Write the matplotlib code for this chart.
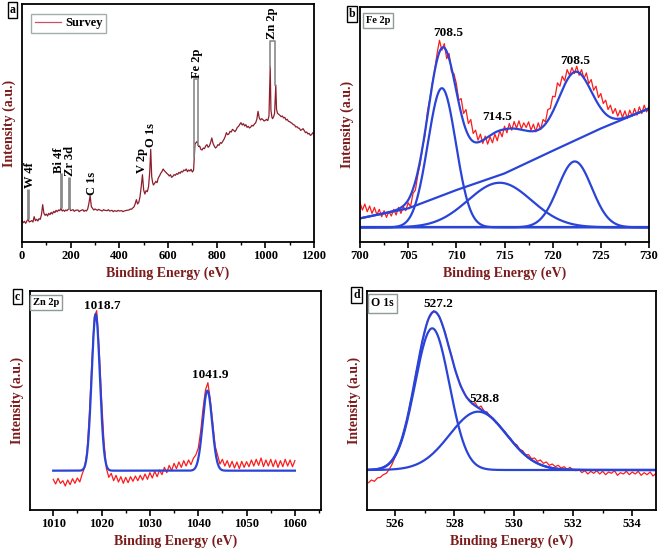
import numpy as np
import matplotlib.pyplot as plt
from matplotlib.ticker import MultipleLocator

plt.rcParams['font.family'] = ['Liberation Serif', 'DejaVu Serif']
plt.rcParams['font.weight'] = 'bold'

# ====================================================================
# DATA (arbitrary intensity units)
# ====================================================================
# (a) survey spectrum
survey_ev = [0, 5, 10, 15, 20, 25, 30, 40, 45, 50, 55, 60,
             65, 70, 75, 80, 85, 90, 95, 100, 105, 110, 115, 120,
             125, 130, 135, 140, 145, 150, 155, 160, 165, 170, 175, 180,
             185, 190, 195, 200, 210, 215, 220, 230, 235, 240, 250, 255,
             260, 265, 270, 275, 280, 285, 290, 295, 300, 310, 315, 320,
             330, 335, 340, 350, 355, 360, 370, 375, 380, 390, 395, 400,
             410, 415, 420, 430, 440, 445, 450, 455, 460, 465, 470, 475,
             480, 485, 490, 495, 500, 505, 510, 515, 520, 525, 529, 533,
             537, 540, 545, 550, 555, 560, 565, 570, 575, 580, 585, 590,
             595, 600, 605, 610, 615, 620, 625, 630, 635, 640, 645, 650,
             655, 660, 665, 670, 675, 680, 685, 690, 695, 700, 705, 708,
             711, 715, 720, 723, 727, 730, 735, 740, 745, 750, 755, 760,
             765, 770, 775, 780, 785, 790, 795, 800, 805, 810, 815, 820,
             825, 830, 835, 840, 845, 850, 855, 860, 865, 870, 875, 880,
             885, 890, 895, 900, 905, 910, 915, 920, 925, 930, 935, 940,
             945, 950, 955, 960, 965, 970, 975, 980, 985, 990, 995, 1000,
             1005, 1010, 1015, 1020, 1023, 1027, 1030, 1035, 1038, 1043, 1046, 1050,
             1055, 1060, 1065, 1070, 1075, 1080, 1085, 1090, 1095, 1100, 1105, 1110,
             1115, 1120, 1125, 1130, 1135, 1140, 1145, 1150, 1155, 1160, 1165, 1170,
             1175, 1180, 1185, 1190, 1195, 1200]
survey_counts = [58, 52, 56, 50, 57, 62, 54, 58, 54, 70, 58, 62,
                 57, 64, 62, 76, 106, 80, 74, 78, 72, 80, 76, 83,
                 78, 86, 82, 89, 85, 90, 88, 95, 87, 90, 86, 90,
                 88, 92, 97, 88, 91, 86, 89, 90, 85, 88, 91, 86,
                 89, 87, 93, 110, 133, 100, 95, 90, 93, 89, 92, 90,
                 87, 91, 89, 88, 91, 87, 89, 85, 88, 86, 89, 87,
                 88, 85, 87, 89, 90, 93, 92, 96, 99, 108, 121, 108,
                 113, 130, 160, 196, 150, 138, 148, 145, 160, 205, 272, 190,
                 172, 165, 170, 176, 172, 186, 192, 200, 205, 213, 208, 204,
                 200, 197, 192, 196, 188, 191, 196, 194, 199, 197, 203, 200,
                 206, 204, 210, 208, 213, 205, 210, 207, 212, 204, 209, 250,
                 288, 292, 296, 285, 280, 282, 272, 270, 276, 274, 282, 286,
                 278, 282, 292, 306, 290, 282, 276, 279, 286, 284, 292, 290,
                 296, 302, 310, 322, 316, 318, 326, 324, 332, 329, 325, 330,
                 338, 341, 347, 352, 345, 349, 342, 346, 338, 341, 336, 339,
                 344, 342, 348, 351, 362, 386, 366, 360, 364, 361, 357, 359,
                 362, 358, 372, 520, 390, 368, 364, 372, 380, 465, 392, 380,
                 377, 374, 370, 372, 366, 368, 360, 362, 356, 355, 352, 350,
                 346, 345, 339, 340, 336, 335, 329, 331, 334, 328, 322, 324,
                 318, 320, 314, 316, 322, 319]
survey_labels = ['W 4f', 'Bi 4f', 'Zr 3d', 'C 1s', 'V 2p', 'O 1s', 'Fe 2p', 'Zn 2p']
survey_label_ev = [31, 150, 196, 287, 492, 529, 720, 1029]
survey_label_y = [155, 202, 192, 135, 200, 280, 485, 602]
# single drop lines (W, Bi, Zr) and bracket markers (Fe, Zn)
drop_ev = [25, 160, 193]
drop_low = [62, 95, 92]
drop_high = [152, 200, 190]
bracket_left = [707, 1019]
bracket_right = [725, 1040]
bracket_low_left = [250, 520]
bracket_low_right = [285, 465]
bracket_top = [482, 598]

# (b) Fe 2p
fe_counts = [112, 90, 108, 85, 102, 80, 98, 76, 92, 70, 88, 68,
             86, 72, 92, 75, 98, 80, 100, 88, 112, 100, 140, 150,
             195, 230, 280, 315, 385, 425, 470, 510, 560, 600, 570, 590,
             545, 560, 505, 500, 470, 420, 425, 380, 392, 350, 362, 320,
             330, 300, 318, 290, 312, 288, 310, 292, 318, 298, 328, 310,
             342, 322, 350, 330, 356, 336, 358, 334, 352, 338, 355, 330,
             348, 325, 352, 332, 362, 355, 392, 395, 432, 430, 472, 462,
             492, 478, 512, 495, 518, 500, 522, 495, 512, 485, 502, 470,
             482, 450, 462, 428, 440, 410, 420, 392, 405, 380, 395, 372,
             390, 368, 388, 365, 390, 372, 395, 375, 400, 380, 405, 385,
             402]
fe_bg_ev = [700, 705, 710, 715, 720, 725, 730]
fe_bg = [65, 95, 150, 200, 268, 335, 395]
fe_base = 38
fe_centers = [708.5, 714.5, 722.3]
fe_heights = [418, 134, 198]
fe_sigmas = [1.45, 3.3, 1.75]
fe_peak_text = ['708.5', '714.5', '708.5']
fe_text_ev = [709.2, 714.2, 722.3]
fe_text_y = [623, 370, 538]

# (c) Zn 2p
zn_counts = [92, 78, 95, 80, 88, 72, 90, 76, 94, 80, 96, 84,
             108, 128, 175, 290, 445, 580, 598, 485, 335, 205, 125, 98,
             110, 88, 104, 84, 100, 80, 98, 82, 100, 86, 102, 88,
             104, 90, 108, 92, 112, 96, 116, 100, 120, 106, 128, 112,
             134, 118, 140, 124, 144, 128, 148, 132, 150, 136, 155, 165,
             185, 235, 305, 360, 382, 330, 262, 192, 165, 138, 152, 132,
             148, 128, 146, 126, 144, 124, 146, 128, 145, 130, 150, 132,
             152, 134, 156, 130, 150, 132, 152, 130, 150, 128, 148, 130,
             152, 132, 150, 130, 148]
zn_base = 118
zn_centers = [1018.8, 1041.9]
zn_heights = [470, 240]
zn_sigmas = [0.85, 0.97]
zn_peak_text = ['1018.7', '1041.9']
zn_text_ev = [1020.1, 1042.5]
zn_text_y = [613, 405]

# (d) O 1s
o_counts = [82, 90, 86, 96, 98, 106, 110, 122, 138, 160,
            180, 204, 240, 270, 318, 356, 410, 452, 502, 534,
            570, 584, 598, 590, 580, 552, 530, 490, 464, 426,
            402, 372, 358, 338, 332, 318, 322, 306, 312, 296,
            294, 280, 276, 262, 256, 242, 236, 222, 214, 200,
            196, 182, 178, 166, 166, 154, 156, 146, 150, 140,
            144, 134, 138, 130, 134, 126, 130, 122, 128, 120,
            118, 122, 112, 118, 108, 116, 110, 118, 108, 116,
            106, 114, 110, 118, 104, 112, 108, 116, 106, 114,
            108, 116, 104, 112, 106, 114, 102, 110]
o_base = 120
o_centers = [527.25, 528.8]
o_heights = [425, 175]
o_sigmas = [0.58, 0.96]
o_peak_text = ['527.2', '528.8']
o_text_ev = [527.46, 529.0]
o_text_y = [619, 333]

# ====================================================================
# STYLE
# ====================================================================
RED = '#fb1c1c'
BLUE = '#2a44d8'
MAROON = '#8c1f2c'
LABEL_RED = '#7d1c1c'


def gauss(x, c, h, s):
    return h * np.exp(-0.5 * ((x - c) / s) ** 2)


def style_axes(ax, xlim, ylim, major, minor):
    ax.set_xlim(*xlim)
    ax.set_ylim(*ylim)
    ax.set_yticks([])
    ax.xaxis.set_major_locator(MultipleLocator(major))
    ax.xaxis.set_minor_locator(MultipleLocator(minor))
    ax.tick_params(axis='x', which='major', direction='out', length=4, width=1.2,
                   labelsize=9, pad=2)
    ax.tick_params(axis='x', which='minor', direction='out', length=2.5, width=1.0)
    for lab in ax.get_xticklabels():
        lab.set_fontweight('bold')
    for sp in ax.spines.values():
        sp.set_linewidth(1.3)
    ax.set_xlabel('Binding Energy (eV)', fontsize=10, color=LABEL_RED,
                  fontweight='bold', labelpad=3)
    ax.set_ylabel('Intensity (a.u.)', fontsize=10, color=LABEL_RED,
                  fontweight='bold', labelpad=4)


def inner_tag(ax, x, y, txt, size):
    ax.text(x, y, txt, transform=ax.transAxes, ha='center', va='center',
            fontsize=size, fontweight='bold',
            bbox=dict(boxstyle='square,pad=0.3', fc='white', ec='#8f9a9a', lw=1.0))


W, H = 661, 550
fig = plt.figure(figsize=(W / 100, H / 100), dpi=100)


def axes_px(left, top, right, bottom):
    return fig.add_axes([left / W, 1 - bottom / H, (right - left) / W, (bottom - top) / H])


ax_a = axes_px(22, 4, 314, 242)
ax_b = axes_px(360, 7, 649, 242)
ax_c = axes_px(30, 291, 321, 510)
ax_d = axes_px(367, 291, 656, 510)

# ---- (a) survey
ax_a.plot(survey_ev, survey_counts, color=MAROON, lw=0.9, label='Survey')
for x, lo, hi in zip(drop_ev, drop_low, drop_high):
    ax_a.plot([x, x], [lo, hi], color='#8a8a8a', lw=2.0, solid_capstyle='butt')
for l, r, ll, lr, t in zip(bracket_left, bracket_right, bracket_low_left,
                           bracket_low_right, bracket_top):
    ax_a.plot([l, l, r, r], [ll, t, t, lr], color='#8a8a8a', lw=1.2)
for txt, x, y in zip(survey_labels, survey_label_ev, survey_label_y):
    ax_a.text(x, y, txt, rotation=90, ha='center', va='bottom', fontsize=9,
              fontweight='bold')
leg = ax_a.legend(loc='upper left', bbox_to_anchor=(0.03, 0.96), fontsize=9,
                  handlelength=2.1, frameon=True, fancybox=False, borderpad=0.3,
                  handletextpad=0.35, borderaxespad=0)
leg.get_frame().set_edgecolor('#8f9a9a')
leg.get_frame().set_linewidth(1.0)
leg.get_lines()[0].set_color('#c8506a')
for t in leg.get_texts():
    t.set_fontweight('bold')
style_axes(ax_a, (0, 1200), (-6, 708), 200, 100)

# ---- (b) Fe 2p
fe_ev = np.linspace(700, 730, len(fe_counts))
ax_b.plot(fe_ev, fe_counts, color=RED, lw=0.9)
xb = np.linspace(700, 730, 600)
env_b = np.interp(xb, fe_bg_ev, fe_bg)
for c, h, s in zip(fe_centers, fe_heights, fe_sigmas):
    g = gauss(xb, c, h, s)
    env_b = env_b + g
    ax_b.plot(xb, fe_base + g, color=BLUE, lw=1.6)
ax_b.plot(fe_bg_ev, fe_bg, color=BLUE, lw=1.6)
ax_b.plot([700, 730], [fe_base, fe_base], color=BLUE, lw=1.6)
ax_b.plot(xb, env_b, color=BLUE, lw=1.6)
for txt, x, y in zip(fe_peak_text, fe_text_ev, fe_text_y):
    ax_b.text(x, y, txt, ha='center', va='center', fontsize=9.5, fontweight='bold')
inner_tag(ax_b, 0.062, 0.943, 'Fe 2p', 7.5)
style_axes(ax_b, (700, 730), (-6, 700), 5, 2.5)

# ---- (c) Zn 2p
zn_ev = np.linspace(1010, 1060, len(zn_counts))
ax_c.plot(zn_ev, zn_counts, color=RED, lw=0.9)
xc = np.linspace(1010, 1060, 1000)
env_c = np.full_like(xc, zn_base, dtype=float)
for c, h, s in zip(zn_centers, zn_heights, zn_sigmas):
    env_c = env_c + gauss(xc, c, h, s)
ax_c.plot(xc, env_c, color=BLUE, lw=1.6)
for txt, x, y in zip(zn_peak_text, zn_text_ev, zn_text_y):
    ax_c.text(x, y, txt, ha='center', va='center', fontsize=9.5, fontweight='bold')
inner_tag(ax_c, 0.055, 0.947, 'Zn 2p', 7.5)
style_axes(ax_c, (1005.2, 1065.4), (0, 657), 10, 5)

# ---- (d) O 1s
o_ev = np.linspace(525.1, 534.8, len(o_counts))
ax_d.plot(o_ev, o_counts, color=RED, lw=0.9)
xd = np.linspace(525.05, 534.8, 800)
env_d = np.full_like(xd, o_base, dtype=float)
for c, h, s in zip(o_centers, o_heights, o_sigmas):
    g = gauss(xd, c, h, s)
    env_d = env_d + g
    ax_d.plot(xd, o_base + g, color=BLUE, lw=1.6)
ax_d.plot(xd, env_d, color=BLUE, lw=1.6)
for txt, x, y in zip(o_peak_text, o_text_ev, o_text_y):
    ax_d.text(x, y, txt, ha='center', va='center', fontsize=9.5, fontweight='bold')
inner_tag(ax_d, 0.054, 0.943, 'O 1s', 8.5)
style_axes(ax_d, (525.05, 534.8), (0, 657), 2, 1)

# ---- panel letters
for txt, px, py in [('a', 12.5, 10), ('b', 352, 14), ('c', 17.5, 296.5), ('d', 356.5, 295)]:
    fig.text(px / W, 1 - py / H, txt, ha='center', va='center', fontsize=8.5,
             fontweight='bold',
             bbox=dict(boxstyle='square,pad=0.15', fc='white', ec='black', lw=1.0))

fig.savefig('out.png', dpi=100)
